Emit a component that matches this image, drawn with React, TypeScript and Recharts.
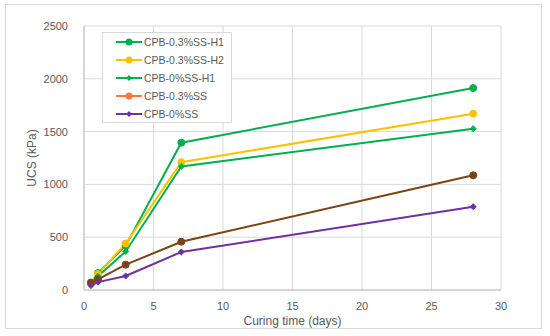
import React from "react";
import {
  LineChart,
  Line,
  XAxis,
  YAxis,
  CartesianGrid,
} from "recharts";

// curing ages (days)
const days = [0.5, 1, 3, 7, 28];

const cpb03H1 = [65, 160, 420, 1395, 1912];
const cpb03H2 = [70, 150, 440, 1210, 1670];
const cpb0H1 = [60, 130, 365, 1170, 1528];
const cpb03 = [70, 100, 240, 457, 1086];
const cpb0 = [42, 75, 133, 360, 789];

const xTicks = [0, 5, 10, 15, 20, 25, 30];
const yTicks = [0, 500, 1000, 1500, 2000, 2500];

const series = [
  { key: "h1", name: "CPB-0.3%SS-H1", values: cpb03H1, stroke: "#00b050", legend: "#00b050", marker: "circle" },
  { key: "h2", name: "CPB-0.3%SS-H2", values: cpb03H2, stroke: "#ffc000", legend: "#ffc000", marker: "circle" },
  { key: "h0", name: "CPB-0%SS-H1", values: cpb0H1, stroke: "#00b050", legend: "#00b050", marker: "diamond" },
  { key: "s3", name: "CPB-0.3%SS", values: cpb03, stroke: "#7a4412", legend: "#f4793b", marker: "circle" },
  { key: "s0", name: "CPB-0%SS", values: cpb0, stroke: "#7030a0", legend: "#7030a0", marker: "diamond" },
];

const data = days.map((d, i) => {
  const row: any = { day: d };
  series.forEach((s) => (row[s.key] = s.values[i]));
  return row;
});

const FONT = '"Liberation Sans", Arial, sans-serif';
const GREY = "#595959";

const makeDot = (color: string, marker: string) => (props: any) => {
  const { cx, cy, index } = props;
  if (cx == null || cy == null) return <g key={index} />;
  if (marker === "diamond") {
    const r = 3;
    return (
      <polygon
        key={index}
        points={`${cx},${cy - r} ${cx + r},${cy} ${cx},${cy + r} ${cx - r},${cy}`}
        fill={color}
        stroke={color}
      />
    );
  }
  return <circle key={index} cx={cx} cy={cy} r={3.5} fill={color} stroke={color} />;
};

const LegendBox = () => (
  <div
    style={{
      position: "absolute",
      left: 102,
      top: 32,
      width: 130,
      height: 91,
      border: "1px solid #d9d9d9",
      background: "#fff",
      boxSizing: "border-box",
      paddingTop: 0,
      fontFamily: FONT,
      fontSize: 10.5,
      color: GREY,
    }}
  >
    {series.map((s) => (
      <div key={s.key} style={{ display: "flex", alignItems: "center", height: 18, paddingLeft: 13 }}>
        <svg width={26} height={10} style={{ marginRight: 2 }}>
          <line x1={0} y1={5} x2={26} y2={5} stroke={s.legend} strokeWidth={2} />
          {s.marker === "diamond" ? (
            <polygon points="13,2 16,5 13,8 10,5" fill={s.legend} />
          ) : (
            <circle cx={13} cy={5} r={3.5} fill={s.legend} />
          )}
        </svg>
        <span>{s.name}</span>
      </div>
    ))}
  </div>
);

export default function App() {
  return (
    <div
      style={{
        position: "absolute",
        left: 0,
        top: 0,
        width: 550,
        height: 336,
        background: "#fff",
      }}
    >
      <div
        style={{
          position: "absolute",
          left: 5,
          top: 4,
          width: 537,
          height: 325,
          border: "1px solid #d9d9d9",
          boxSizing: "border-box",
        }}
      />
      <LineChart
        width={550}
        height={336}
        data={data}
        margin={{ top: 26, right: 49, left: 0, bottom: 0 }}
        style={{ position: "absolute", left: 0, top: 0 }}
      >
        <CartesianGrid stroke="#d9d9d9" />
        <XAxis
          dataKey="day"
          type="number"
          domain={[0, 30]}
          ticks={xTicks}
          height={46}
          stroke="#bfbfbf"
          tickLine={false}
          tick={{ fill: GREY, fontSize: 11, fontFamily: FONT }}
          tickMargin={6}
          label={{
            value: "Curing time (days)",
            position: "center",
            dy: 8,
            fill: GREY,
            fontSize: 12,
            fontFamily: FONT,
          }}
        />
        <YAxis
          type="number"
          domain={[0, 2500]}
          ticks={yTicks}
          width={84}
          stroke="#bfbfbf"
          tickLine={false}
          tick={{ fill: GREY, fontSize: 11, fontFamily: FONT }}
          tickMargin={10}
          label={{
            value: "UCS (kPa)",
            angle: -90,
            position: "center",
            dx: -10,
            fill: GREY,
            fontSize: 12,
            fontFamily: FONT,
          }}
        />
        {series.map((s) => (
          <Line
            key={s.key}
            dataKey={s.key}
            name={s.name}
            type="linear"
            stroke={s.stroke}
            strokeWidth={2}
            dot={makeDot(s.stroke, s.marker)}
            activeDot={false}
            isAnimationActive={false}
          />
        ))}
      </LineChart>
      <LegendBox />
    </div>
  );
}
